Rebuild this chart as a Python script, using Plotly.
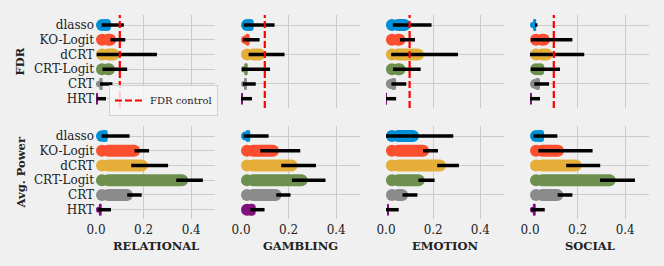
import plotly.graph_objects as go

# ---------------- data ----------------
categories = ["dlasso", "KO-Logit", "dCRT", "CRT-Logit", "CRT", "HRT"]
tasks = ["RELATIONAL", "GAMBLING", "EMOTION", "SOCIAL"]
colors = ["#008fd5", "#fc4f30", "#e5ae38", "#6d904f", "#8b8b8b", "#810f7c"]
fdr_control = 0.1

# FDR (value, lower, upper)
fdr_relational = [0.063, 0.085, 0.099, 0.080, 0.028, 0.006]
fdr_relational_lo = [0.024, 0.061, 0.003, 0.027, 0.017, 0.003]
fdr_relational_hi = [0.117, 0.123, 0.256, 0.131, 0.069, 0.042]

fdr_gambling = [0.053, 0.036, 0.102, 0.028, 0.025, 0.006]
fdr_gambling_lo = [0.011, 0.008, 0.032, 0.004, 0.008, 0.000]
fdr_gambling_hi = [0.141, 0.078, 0.183, 0.122, 0.062, 0.046]

fdr_emotion = [0.104, 0.083, 0.161, 0.083, 0.043, 0.004]
fdr_emotion_lo = [0.029, 0.059, 0.022, 0.030, 0.023, 0.000]
fdr_emotion_hi = [0.193, 0.123, 0.305, 0.147, 0.086, 0.043]

fdr_social = [0.026, 0.084, 0.095, 0.060, 0.042, 0.007]
fdr_social_lo = [0.021, 0.004, 0.000, 0.004, 0.018, 0.000]
fdr_social_hi = [0.031, 0.178, 0.228, 0.126, 0.080, 0.042]

# Average power (value, lower, upper)
pow_relational = [0.049, 0.186, 0.218, 0.387, 0.155, 0.024]
pow_relational_lo = [0.024, 0.162, 0.148, 0.337, 0.131, 0.007]
pow_relational_hi = [0.141, 0.223, 0.303, 0.449, 0.192, 0.063]

pow_gambling = [0.039, 0.160, 0.238, 0.280, 0.171, 0.062]
pow_gambling_lo = [0.011, 0.081, 0.169, 0.214, 0.148, 0.039]
pow_gambling_hi = [0.116, 0.249, 0.315, 0.355, 0.208, 0.099]

pow_emotion = [0.140, 0.183, 0.254, 0.164, 0.094, 0.011]
pow_emotion_lo = [0.000, 0.157, 0.217, 0.137, 0.070, 0.000]
pow_emotion_hi = [0.285, 0.220, 0.309, 0.206, 0.133, 0.054]

pow_social = [0.059, 0.143, 0.217, 0.360, 0.140, 0.024]
pow_social_lo = [0.014, 0.035, 0.152, 0.294, 0.116, 0.004]
pow_social_hi = [0.115, 0.263, 0.295, 0.441, 0.178, 0.062]

fdr_rows = [(fdr_relational, fdr_relational_lo, fdr_relational_hi),
            (fdr_gambling, fdr_gambling_lo, fdr_gambling_hi),
            (fdr_emotion, fdr_emotion_lo, fdr_emotion_hi),
            (fdr_social, fdr_social_lo, fdr_social_hi)]
pow_rows = [(pow_relational, pow_relational_lo, pow_relational_hi),
            (pow_gambling, pow_gambling_lo, pow_gambling_hi),
            (pow_emotion, pow_emotion_lo, pow_emotion_hi),
            (pow_social, pow_social_lo, pow_social_hi)]

# ---------------- layout geometry / style ----------------
W, H = 664, 266
BG = "#f0f0f0"
GRID = "#cbcbcb"
FONT = "DejaVu Serif"
TXT = "#222222"
x_px = [(96, 215), (241, 360), (386, 504), (530, 649)]
y_px = [(15, 108), (126, 219)]
X_RANGE = [0, 0.5]
Y_RANGE = [5.63, -0.68]
BAR_W = 0.82
PX_PER_X = (x_px[0][1] - x_px[0][0]) / (X_RANGE[1] - X_RANGE[0])
BAR_PX = BAR_W * (y_px[0][1] - y_px[0][0]) / (Y_RANGE[0] - Y_RANGE[1])
CAP = (BAR_PX / 2) / PX_PER_X  # round cap radius in data units

fig = go.Figure()
layout = dict(
    width=W, height=H,
    margin=dict(l=0, r=0, t=0, b=0),
    paper_bgcolor=BG, plot_bgcolor=BG,
    font=dict(family=FONT, size=12, color=TXT),
    barmode="overlay",
    showlegend=True,
    legend=dict(x=109 / W, y=1 - 85 / H, xanchor="left", yanchor="top",
                bgcolor="rgba(246,246,246,0.85)", bordercolor="#d0d0d0", borderwidth=1,
                font=dict(family=FONT, size=10, color=TXT),
                itemwidth=30, tracegroupgap=0),
)

annotations = []
shapes = []
for r, rows in enumerate([fdr_rows, pow_rows]):
    for c in range(4):
        k = r * 4 + c + 1
        xs = "" if k == 1 else str(k)
        vals, lo, hi = rows[c]
        start = [min(CAP, v / 2) for v in vals]
        # body of the pill (rounded far end)
        fig.add_trace(go.Bar(
            y=categories, x=[v - s for v, s in zip(vals, start)], base=start,
            orientation="h", width=BAR_W,
            marker=dict(color=colors, cornerradius="50%", line=dict(width=0), opacity=1),
            xaxis="x" + xs, yaxis="y" + xs, showlegend=False, hoverinfo="skip"))
        # rounded start of the pill
        fig.add_trace(go.Scatter(
            y=categories, x=start, mode="markers",
            marker=dict(color=colors, size=[min(BAR_PX, 2 * s * PX_PER_X) for s in start],
                        symbol="circle", line=dict(width=0), opacity=1),
            xaxis="x" + xs, yaxis="y" + xs, showlegend=False, hoverinfo="skip"))
        # error bars
        fig.add_trace(go.Scatter(
            x=vals, y=categories, mode="markers",
            marker=dict(size=1, color="rgba(0,0,0,0)"),
            error_x=dict(type="data", symmetric=False,
                         array=[max(h - v, 0) for h, v in zip(hi, vals)],
                         arrayminus=[max(v - l, 0) for l, v in zip(lo, vals)],
                         color="black", thickness=3.5, width=0),
            xaxis="x" + xs, yaxis="y" + xs, showlegend=False, hoverinfo="skip"))

        x0, x1 = x_px[c]
        y0, y1 = y_px[r]
        layout["xaxis" + xs] = dict(
            domain=[x0 / W, x1 / W], range=X_RANGE, tick0=0, dtick=0.2,
            tickformat=".1f", showgrid=True, gridcolor=GRID, gridwidth=1.3,
            zeroline=False, showline=False, ticks="", showticklabels=(r == 1),
            tickfont=dict(size=12, family=FONT, color=TXT), ticklabelstandoff=2,
            anchor="y" + xs, automargin=False, fixedrange=True)
        layout["yaxis" + xs] = dict(
            domain=[1 - y1 / H, 1 - y0 / H], type="category",
            categoryorder="array", categoryarray=categories,
            range=Y_RANGE, showgrid=True, gridcolor=GRID, gridwidth=1.3,
            zeroline=False, showline=False, ticks="", showticklabels=(c == 0),
            tickfont=dict(size=12, family=FONT, color=TXT), ticklabelstandoff=1,
            anchor="x" + xs, automargin=False, fixedrange=True)

        if r == 0:
            shapes.append(dict(type="line", xref="x" + xs, yref="y" + xs + " domain",
                               x0=fdr_control, x1=fdr_control, y0=0, y1=1, layer="above",
                               line=dict(color="#ff0000", width=2.2, dash="7px,3px")))
        else:
            annotations.append(dict(text="<b>" + tasks[c] + "</b>", xref="paper", yref="paper",
                                    x=(x0 + x1) / 2 / W, y=1 - 246 / H, xanchor="center",
                                    yanchor="middle", showarrow=False,
                                    font=dict(family=FONT, size=11.5, color=TXT)))

for text, (y0, y1) in zip(["FDR", "Avg. Power"], y_px):
    annotations.append(dict(text="<b>" + text + "</b>", xref="paper", yref="paper",
                            x=20 / W, y=1 - (y0 + y1) / 2 / H, xanchor="center",
                            yanchor="middle", textangle=-90, showarrow=False,
                            font=dict(family=FONT, size=11.5, color=TXT)))

# legend entry for the FDR control line
fig.add_trace(go.Scatter(x=[None], y=[None], mode="lines", name="FDR control",
                         line=dict(color="#ff0000", width=2.2, dash="7px,3px"),
                         xaxis="x", yaxis="y", showlegend=True))

layout["annotations"] = annotations
layout["shapes"] = shapes
fig.update_layout(**layout)
fig.write_html("out.html",
               config={"displayModeBar": False},
               post_script="document.body.style.margin='0';"
                           "document.body.style.background='" + BG + "';")
